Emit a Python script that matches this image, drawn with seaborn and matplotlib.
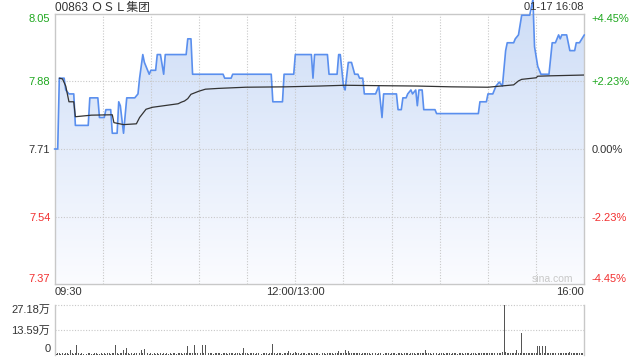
import numpy as np
import pandas as pd
import matplotlib
matplotlib.use("Agg")
import matplotlib.pyplot as plt
import seaborn as sns
from matplotlib.colors import LinearSegmentedColormap

# ---------------- data ----------------
stock_title = "00863 ＯＳＬ集团"
stamp_text = "01-17 16:08"
prev_close = 7.71
pct_steps = [-0.0445, -0.0223, 0.0, 0.0223, 0.0445]
price_labels = ["7.37", "7.54", "7.71", "7.88", "8.05"]
pct_labels = ["-4.45%", "-2.23%", "0.00%", "+2.23%", "+4.45%"]
time_ticks = ["09:30", "12:00/13:00", "16:00"]

price_times = [
    "09:30", "09:32", "09:33", "09:36", "09:37", "09:39", "09:42", "09:43", "09:51", "09:52",
    "09:57", "09:58", "10:01", "10:02", "10:05", "10:06", "10:09", "10:10", "10:11", "10:13",
    "10:15", "10:20", "10:22", "10:23", "10:25", "10:26", "10:29", "10:30", "10:33", "10:34",
    "10:36", "10:38", "10:39", "10:52", "10:53", "10:55", "10:56", "11:15", "11:16", "11:20",
    "11:21", "11:45", "11:46", "11:52", "11:53", "11:59", "13:00", "13:10", "13:11", "13:12",
    "13:20", "13:21", "13:26", "13:27", "13:28", "13:30", "13:31", "13:33", "13:35", "13:37",
    "13:39", "13:40", "13:42", "13:43", "13:50", "13:52", "13:54", "13:55", "14:03", "14:04",
    "14:06", "14:07", "14:09", "14:10", "14:12", "14:13", "14:15", "14:16", "14:17", "14:19",
    "14:20", "14:27", "14:28", "14:54", "14:55", "14:59", "15:00", "15:03", "15:05", "15:07",
    "15:09", "15:11", "15:12", "15:16", "15:17", "15:19", "15:21", "15:26", "15:28", "15:29",
    "15:31", "15:33", "15:38", "15:40", "15:42", "15:44", "15:45", "15:46", "15:49", "15:51",
    "15:54", "15:55", "15:57", "16:00",
]
price_values = [
    7.71, 7.71, 7.89, 7.89, 7.86, 7.85, 7.85, 7.77, 7.77, 7.84,
    7.84, 7.79, 7.79, 7.81, 7.81, 7.75, 7.75, 7.83, 7.82, 7.75,
    7.84, 7.84, 7.85, 7.89, 7.95, 7.93, 7.90, 7.91, 7.91, 7.95,
    7.95, 7.90, 7.95, 7.95, 7.99, 7.99, 7.90, 7.90, 7.89, 7.89,
    7.90, 7.90, 7.83, 7.83, 7.90, 7.90, 7.95, 7.95, 7.89, 7.95,
    7.95, 7.90, 7.90, 7.95, 7.95, 7.87, 7.86, 7.93, 7.93, 7.90,
    7.90, 7.89, 7.89, 7.85, 7.85, 7.87, 7.79, 7.85, 7.85, 7.81,
    7.81, 7.84, 7.84, 7.85, 7.86, 7.85, 7.86, 7.82, 7.86, 7.86,
    7.81, 7.81, 7.80, 7.80, 7.83, 7.83, 7.85, 7.85, 7.87, 7.88,
    7.87, 7.96, 7.98, 7.98, 7.99, 8.00, 8.05, 8.05, 8.09, 7.97,
    7.92, 7.90, 7.90, 7.98, 7.98, 8.00, 7.99, 8.00, 8.00, 7.96,
    7.96, 7.98, 7.98, 8.00,
]

avg_times = [
    "09:33", "09:35", "09:37", "09:39", "09:42", "09:43", "09:53", "10:06", "10:07", "10:13",
    "10:21", "10:23", "10:27", "10:31", "10:47", "10:49", "10:51", "10:53", "10:55", "11:00",
    "11:04", "11:12", "11:29", "11:54", "13:15", "13:31", "13:51", "14:16", "14:37", "15:00",
    "15:08", "15:16", "15:19", "15:21", "15:30", "15:31", "15:39", "16:00",
]
avg_values = [
    7.890, 7.888, 7.870, 7.830, 7.830, 7.792, 7.796, 7.797, 7.777, 7.772,
    7.774, 7.790, 7.811, 7.816, 7.825, 7.829, 7.832, 7.838, 7.849, 7.857,
    7.862, 7.864, 7.867, 7.868, 7.870, 7.872, 7.871, 7.870, 7.868, 7.867,
    7.870, 7.873, 7.883, 7.887, 7.891, 7.895, 7.896, 7.898,
]

# volume per session minute (unit: 万股), 09:30 onwards, 30 per row
volume = [
    0.0, 0.4, 0.6, 0.9, 0.5, 0.7, 0.4, 0.6, 0.8, 0.5, 2.3, 0.6, 0.4, 0.7, 5.0, 0.9, 0.5, 0.6, 0.4, 0.7, 0.5, 0.8, 0.6, 0.4, 0.5, 0.7, 0.9, 0.5, 0.4, 0.6,
    0.5, 0.7, 0.4, 0.6, 0.8, 0.5, 0.9, 0.6, 5.0, 0.7, 0.5, 0.8, 0.6, 2.5, 0.7, 3.3, 0.6, 0.5, 0.8, 0.4, 0.6, 0.7, 0.5, 0.9, 2.2, 0.8, 3.0, 1.6, 0.7, 0.5,
    0.6, 0.4, 0.7, 0.5, 0.8, 0.4, 0.6, 0.5, 0.7, 0.4, 0.6, 0.5, 0.8, 0.4, 0.6, 0.7, 0.5, 0.9, 0.6, 0.8, 0.5, 0.7, 0.9, 4.7, 0.8, 0.6, 0.9, 5.0, 0.7, 0.8,
    5.2, 0.9, 5.2, 0.8, 5.0, 0.7, 0.9, 0.6, 0.8, 0.5, 0.7, 0.9, 0.6, 0.8, 0.5, 0.7, 0.6, 0.9, 0.5, 0.7, 0.6, 0.8, 0.5, 0.9, 0.6, 0.7, 0.5, 0.8, 3.8, 0.6,
    0.7, 0.5, 0.8, 0.6, 0.9, 0.5, 0.7, 0.6, 0.8, 0.5, 0.9, 0.6, 0.7, 0.5, 0.8, 0.6, 6.0, 0.7, 0.5, 0.8, 0.6, 0.9, 0.5, 0.7, 0.6, 0.8, 1.7, 0.6, 0.5, 0.7,
    1.4, 0.6, 0.8, 0.5, 0.7, 0.6, 0.9, 0.5, 0.7, 0.6, 0.8, 0.5, 0.7, 0.6, 0.9, 0.5, 0.8, 0.6, 0.7, 0.5, 0.9, 0.6, 0.7, 0.8, 0.5, 0.9, 0.7, 1.9, 0.8, 0.6,
    0.9, 2.2, 0.7, 1.9, 0.8, 0.6, 0.9, 0.7, 0.8, 0.6, 0.9, 0.5, 0.8, 0.7, 0.9, 0.6, 0.8, 0.5, 0.7, 0.6, 0.9, 0.5, 0.8, 0.6, 0.7, 0.5, 0.8, 0.6, 0.9, 0.5,
    0.7, 0.6, 0.8, 0.5, 0.9, 0.6, 0.7, 0.5, 0.8, 0.6, 0.9, 0.5, 0.7, 0.6, 0.8, 0.5, 0.7, 0.9, 0.6, 0.8, 0.7, 2.5, 0.8, 0.6, 0.7, 0.5, 0.9, 0.6, 0.8, 0.5,
    0.7, 0.6, 0.8, 0.5, 0.7, 0.6, 0.9, 0.5, 0.7, 0.6, 0.8, 0.5, 0.7, 0.6, 0.9, 0.5, 0.8, 0.6, 0.7, 0.5, 0.8, 0.6, 0.9, 0.5, 0.7, 0.8, 0.6, 0.9, 0.7, 0.8,
    0.6, 0.9, 0.7, 0.8, 0.6, 0.9, 0.7, 1.0, 0.8, 1.2, 27.18, 1.1, 0.9, 0.7, 0.8, 0.6, 0.9, 0.7, 2.7, 0.8, 0.6, 11.8, 1.0, 0.8, 0.6, 0.9, 0.7, 0.8, 0.6, 0.9,
    0.8, 4.4, 4.4, 0.9, 4.4, 0.8, 4.4, 0.9, 0.7, 0.8, 0.6, 0.9, 0.7, 0.8, 0.6, 0.9, 0.7, 0.8, 0.6, 0.9, 0.7, 1.4, 0.8, 0.6, 0.9, 0.7, 0.8, 0.6, 1.0, 0.7,
    8.8,
]
vol_max = 27.18
vol_labels = ["0", "13.59万", "27.18万"]


def session_minute(t):
    h, m = map(int, t.split(":"))
    tot = h * 60 + m
    return tot - 570 if tot <= 720 else tot - 780 + 150


# ---------------- style ----------------
sns.set_style("white")
plt.rcParams["font.family"] = ["Liberation Sans", "Noto Sans CJK SC", "DejaVu Sans"]
plt.rcParams["font.size"] = 8

GREEN = "#1fa81f"
RED = "#f23030"
DARK = "#333333"
GRID = "#c8c8c8"
SPINE = "#c8c8c8"

W, H = 640, 360
fig = plt.figure(figsize=(W / 100, H / 100), dpi=100)

x0, x1 = 54.5, 584.3
ax = fig.add_axes([x0 / W, (H - 284) / H, (x1 - x0) / W, 270 / H])
axv = fig.add_axes([x0 / W, (H - 354.5) / H, (x1 - x0) / W, 49.5 / H])

tick_vals = [prev_close * (1 + p) for p in pct_steps]
ylo, yhi = tick_vals[0], tick_vals[-1]

price_df = pd.DataFrame({"minute": [session_minute(t) for t in price_times], "price": price_values})
avg_df = pd.DataFrame({"minute": [session_minute(t) for t in avg_times], "price": avg_values})

# gradient fill under the price line
grad = np.linspace(0, 1, 256).reshape(-1, 1)
cmap = LinearSegmentedColormap.from_list("fillgrad", ["#fbfcff", "#cfdef7"])
im = ax.imshow(grad, extent=[0, 330, ylo, yhi], origin="lower", aspect="auto",
               cmap=cmap, zorder=0.1, interpolation="bilinear")
poly = ax.fill_between(price_df["minute"], price_df["price"], ylo - 1,
                       facecolor="none", edgecolor="none")
im.set_clip_path(poly.get_paths()[0], transform=ax.transData)

sns.lineplot(data=price_df, x="minute", y="price", ax=ax, color="#5a8fee",
             linewidth=1.2, estimator=None, sort=False, zorder=3)
ax.lines[-1].set_clip_on(False)
sns.lineplot(data=avg_df, x="minute", y="price", ax=ax, color=DARK,
             linewidth=0.9, estimator=None, sort=False, zorder=4)

ax.set_xlim(0, 330)
ax.set_ylim(ylo, yhi)
ax.set_xlabel("")
ax.set_ylabel("")

# grid
for v in tick_vals[1:-1]:
    ax.axhline(v, color=GRID, lw=0.8, ls=(0, (1, 1.5)), zorder=0.5)
for m in range(30, 330, 30):
    ax.axvline(m, color=GRID, lw=0.8, ls=(0, (1, 1.5)), zorder=0.5)

for s in ax.spines.values():
    s.set_color(SPINE)
    s.set_linewidth(1)

# left price labels
ax.set_yticks(tick_vals)
ax.set_yticklabels(price_labels)
ax.tick_params(axis="y", length=0, pad=3)
colors = [RED, RED, DARK, GREEN, GREEN]
for lab, c in zip(ax.get_yticklabels(), colors):
    lab.set_color(c)
ax.get_yticklabels()[0].set_va("bottom")
ax.get_yticklabels()[-1].set_va("top")

# right percent labels
ax2 = ax.twinx()
ax2.set_ylim(ylo, yhi)
ax2.set_yticks(tick_vals)
ax2.set_yticklabels(pct_labels)
ax2.tick_params(axis="y", length=0, pad=5)
for lab, c in zip(ax2.get_yticklabels(), colors):
    lab.set_color(c)
ax2.get_yticklabels()[0].set_va("bottom")
ax2.get_yticklabels()[-1].set_va("top")
for s in ax2.spines.values():
    s.set_visible(False)
ax2.grid(False)

# x labels
ax.set_xticks([0, 150, 330])
ax.set_xticklabels(time_ticks)
ax.tick_params(axis="x", length=0, pad=2.5, colors=DARK)
xl = ax.get_xticklabels()
xl[0].set_ha("left")
xl[1].set_ha("center")
xl[2].set_ha("right")

# volume panel
vmin = list(range(len(volume)))
axv.bar(vmin, volume, width=0.6, color="#555555", linewidth=0, zorder=3)
axv.set_xlim(0, 330)
axv.set_ylim(0, vol_max)
axv.axhline(vol_max, color=GRID, lw=0.8, ls=(0, (1, 1.5)), zorder=0.5, clip_on=False)
axv.axhline(vol_max / 2, color=GRID, lw=0.8, ls=(0, (1, 1.5)), zorder=0.5)
axv.set_xticks([])
axv.set_yticks([0, vol_max / 2, vol_max])
axv.set_yticklabels(vol_labels)
axv.tick_params(axis="y", length=0, pad=3, colors=DARK)
axv.get_yticklabels()[0].set_va("bottom")
axv.get_yticklabels()[-1].set_va("top")
for k, s in axv.spines.items():
    if k in ("left", "right"):
        s.set_color(SPINE)
        s.set_linewidth(1)
    else:
        s.set_visible(False)

# texts
fig.text(55 / W, 1 - 7.5 / H, stock_title, ha="left", va="center", fontsize=8.5, color=DARK)
fig.text(584 / W, 1 - 7.5 / H, stamp_text, ha="right", va="center", fontsize=8, color=DARK)
fig.text(573 / W, 1 - 279 / H, "sina.com", ha="right", va="center", fontsize=7.5, color="#c8c8c8")

fig.savefig("out.png", dpi=100)
